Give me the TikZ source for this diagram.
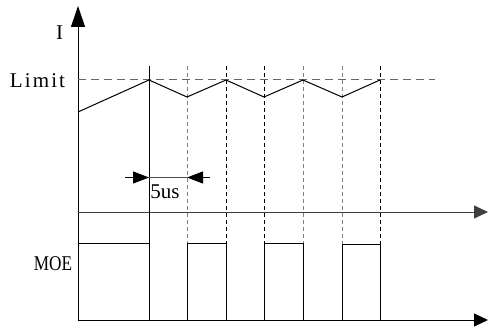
\documentclass[tikz,border=0pt]{standalone}
\usepackage{fontspec}
\setmainfont{Liberation Serif}
\newfontfamily\spacedfont[LetterSpace=10]{Liberation Serif}
\usetikzlibrary{arrows.meta}
\begin{document}
\begin{tikzpicture}[x=1pt,y=-1pt,line width=1pt,
  lbl/.style={inner sep=0pt,font=\fontsize{21}{25}\selectfont},
  slbl/.style={inner sep=0pt,font=\spacedfont\fontsize{21}{25}\selectfont},
  limitline/.style={draw=gray!80!black,dash pattern=on 8pt off 5pt},
  guide/.style={dash pattern=on 4pt off 3pt},
  guidegray/.style={draw=gray,dash pattern=on 4pt off 3pt},
  yarrow/.style={-{Triangle[length=21pt,width=14pt]}},
  xarrow/.style={-{Triangle[length=14pt,width=13pt]}},
  dimarrow/.style={-{Triangle[length=16pt,width=12pt]}}]
\useasboundingbox (0,0) rectangle (488,329);
% coordinates
\coordinate (O) at (78,320);
\coordinate (Ytop) at (78,6);
\coordinate (Xend) at (488,320);
\coordinate (Mleft) at (78,212);
\coordinate (Mend) at (488,212);
\coordinate (L0) at (78,80);
\coordinate (L1) at (435,80);
% labels
\node[lbl] (I) at (59.5,33) {I};
\node[slbl] (limit) at (37.5,81) {Limit};
\node[lbl] (moe) at (53,264) {\scalebox{0.82}[1]{MOE}};
\node[lbl] (five) at (165,192) {5us};
% axes
\draw[yarrow] (O) -- (Ytop);
\draw[xarrow] (O) -- (Xend);
\draw[xarrow,draw=black!75] (Mleft) -- (Mend);
% limit line
\draw[limitline] (L0) -- (L1);
% vertical guides
\draw (149,66) -- (149,320);
\draw[guidegray] (187,66) -- (187,320);
\draw[guide] (226,66) -- (226,320);
\draw[guide] (264,66) -- (264,320);
\draw[guidegray] (303,66) -- (303,320);
\draw[guidegray] (342,66) -- (342,320);
\draw[guide] (380,66) -- (380,320);
% current waveform
\draw (78,112) -- (149,80) -- (187,97) -- (226,80) -- (264,97) -- (303,80) -- (342,97) -- (380,80);
% MOE waveform
\draw (78,243) -- (149,243) -- (149,320);
\draw (187,320) -- (187,243) -- (226,243) -- (226,320);
\draw (264,320) -- (264,243) -- (303,243) -- (303,320);
\draw (342,320) -- (342,244) -- (380,244) -- (380,320);
% 5us dimension
\coordinate (dA) at (125,177.5);
\coordinate (dB) at (149,177.5);
\coordinate (dC) at (210,177.5);
\coordinate (dD) at (187,177.5);
\draw[draw=black!70] (dB) -- (dD);
\draw[dimarrow] (dA) -- (dB);
\draw[dimarrow] (dC) -- (dD);
\end{tikzpicture}
\end{document}
